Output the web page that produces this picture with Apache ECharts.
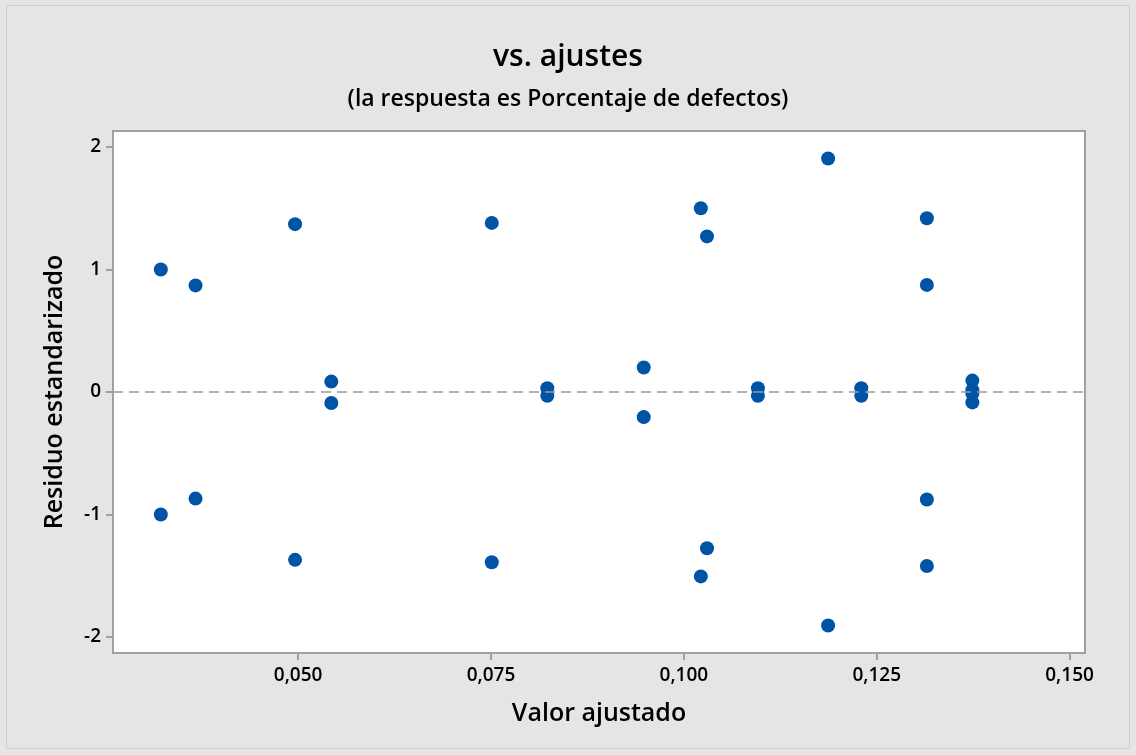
<!DOCTYPE html>
<html>
<head>
<meta charset="utf-8">
<script src="https://cdn.jsdelivr.net/npm/echarts@6/dist/echarts.min.js"></script>
<style>
html,body{margin:0;padding:0;background:#fff;}
#c{width:1136px;height:755px;}
</style>
</head>
<body>
<div id="c"></div>
<script>
const fittedValues = [0.0322,0.0322,0.0367,0.0367,0.0496,0.0496,0.0543,0.0543,0.0751,0.0751,0.0823,0.0823,0.0948,0.0948,0.1022,0.1030,0.1030,0.1022,0.1096,0.1096,0.1187,0.1187,0.1230,0.1230,0.1315,0.1315,0.1315,0.1315,0.1374,0.1374,0.1374,0.1374];
const stdResiduals = [1.00,-1.00,0.87,-0.87,1.37,-1.37,0.085,-0.09,1.38,-1.39,0.03,-0.03,0.20,-0.205,1.50,1.27,-1.275,-1.505,0.03,-0.03,1.905,-1.905,0.03,-0.03,1.418,0.874,-0.877,-1.42,0.093,0.015,-0.015,-0.085];
const xTicks = [0.050,0.075,0.100,0.125,0.150];
const yTicks = [-2,-1,0,1,2];

const points = fittedValues.map((x,i)=>[x,stdResiduals[i]]);
const font = '"Open Sans", "Noto Sans", sans-serif';
const chart = echarts.init(document.getElementById('c'));
chart.setOption({
  backgroundColor:'#e5e5e5',
  animation:false,
  graphic:[{type:'rect',shape:{x:6.5,y:5.5,width:1123,height:743},style:{fill:'none',stroke:'#cfcfcf',lineWidth:1},silent:true,z:-1}],
  title:{
    text:'vs. ajustes',
    subtext:'(la respuesta es Porcentaje de defectos)',
    left:'center',top:37,itemGap:16,
    textStyle:{fontFamily:font,fontSize:30,fontWeight:600,color:'#000'},
    subtextStyle:{fontFamily:font,fontSize:23,fontWeight:600,color:'#000'}
  },
  grid:{left:113,top:131,right:51,bottom:102,show:true,backgroundColor:'#fff',borderColor:'#a0a0a0',borderWidth:2},
  xAxis:{
    type:'value',min:0.026,max:0.152,
    name:'Valor ajustado',nameLocation:'middle',nameGap:48,
    nameTextStyle:{fontFamily:font,fontSize:25,fontWeight:600,color:'#000'},
    axisLine:{show:false,onZero:false},
    splitLine:{show:false},
    axisTick:{show:true,length:7,customValues:xTicks,lineStyle:{color:'#a0a0a0',width:2}},
    axisLabel:{customValues:xTicks,fontFamily:font,fontSize:19,fontWeight:600,color:'#000',margin:13,
      formatter:v=>v.toFixed(3).replace('.',',')}
  },
  yAxis:{
    type:'value',min:-2.13,max:2.13,
    name:'Residuo estandarizado',nameLocation:'middle',nameGap:46,
    nameTextStyle:{fontFamily:font,fontSize:25,fontWeight:600,color:'#000'},
    axisLine:{show:false,onZero:false},
    splitLine:{show:false},
    axisTick:{show:true,length:7,customValues:yTicks,lineStyle:{color:'#a0a0a0',width:2}},
    axisLabel:{customValues:yTicks,fontFamily:font,fontSize:19,fontWeight:600,color:'#000',margin:12,
      formatter:v=>String(v)}
  },
  series:[{
    type:'scatter',data:points,symbolSize:14,
    itemStyle:{color:'#0054a6',opacity:1},
    markLine:{silent:true,symbol:'none',label:{show:false},
      lineStyle:{color:'#999999',type:[10,6],width:1.5},
      data:[{yAxis:0}]},
    z:3
  }]
});
</script>
</body>
</html>
